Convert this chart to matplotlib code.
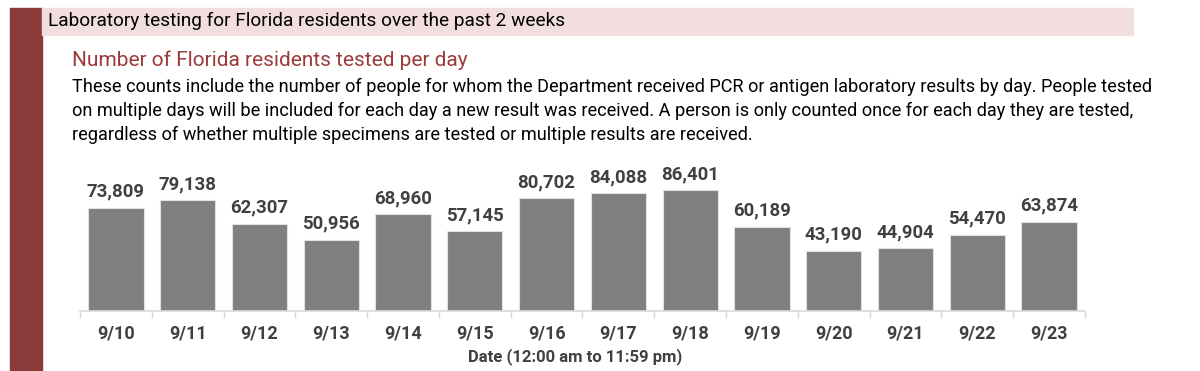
import numpy as np
import matplotlib.pyplot as plt
from matplotlib.patches import Rectangle

dates = ["9/10", "9/11", "9/12", "9/13", "9/14", "9/15", "9/16",
         "9/17", "9/18", "9/19", "9/20", "9/21", "9/22", "9/23"]
tested = [73809, 79138, 62307, 50956, 68960, 57145, 80702,
          84088, 86401, 60189, 43190, 44904, 54470, 63874]

header = "Laboratory testing for Florida residents over the past 2 weeks"
subtitle = "Number of Florida residents tested per day"
body = ["These counts include the number of people for whom the Department received PCR or antigen laboratory results by day. People tested",
        "on multiple days will be included for each day a new result was received. A person is only counted once for each day they are tested,",
        "regardless of whether multiple specimens are tested or multiple results are received."]
xlabel = "Date (12:00 am to 11:59 pm)"

plt.rcParams['font.family'] = ['Roboto', 'DejaVu Sans']

W, H = 1200, 371
fig = plt.figure(figsize=(12, 3.71), dpi=100)

def fx(px):
    return px / W

def fy(py):
    return 1 - py / H

# left red strip and pink header band
fig.patches.append(Rectangle((fx(10), 0), fx(32), fy(8), transform=fig.transFigure,
                             color='#8b3a3a', zorder=0))
fig.patches.append(Rectangle((fx(42), fy(35)), fx(1091), 27 / H, transform=fig.transFigure,
                             color='#f2dede', zorder=0))

fig.text(fx(48), fy(21), header, fontsize=13.7, color='black', va='center')
fig.text(fx(72), fy(60), subtitle, fontsize=15, color='#9b3b3b', va='center')
for i, line in enumerate(body):
    fig.text(fx(72), fy(87 + 24 * i), line, fontsize=13.1, color='black', va='center')

ax = fig.add_axes([fx(80), 60 / H, fx(1005), 151 / H])
x = np.arange(len(dates))
bars = ax.bar(x, tested, width=0.77, color='#7f7f7f', edgecolor='#e0e0e0', linewidth=0.8)
for xi, v in zip(x, tested):
    ax.text(xi, v + 5000, f"{v:,}", ha='center', va='bottom', fontsize=13.4,
            color='#404040', fontweight='bold')

ax.set_xlim(-0.5, len(dates) - 0.5)
ax.set_ylim(0, 107800)
ax.set_yticks([])
ax.set_xticks(x)
ax.set_xticklabels(dates, fontsize=13, color='#404040', fontweight='bold')
ax.tick_params(axis='x', which='major', length=0, pad=10)
ax.set_xticks(np.arange(-0.5, len(dates)), minor=True)
ax.tick_params(axis='x', which='minor', length=5, color='#d9d9d9', width=1)
for s in ['top', 'right', 'left']:
    ax.spines[s].set_visible(False)
ax.spines['bottom'].set_color('#d9d9d9')
ax.spines['bottom'].set_linewidth(1.2)
ax.set_facecolor('none')

fig.text(fx(575), fy(357), xlabel, fontsize=12, color='#404040', ha='center',
         va='center', fontweight='bold')

fig.savefig('out.png', dpi=100)
